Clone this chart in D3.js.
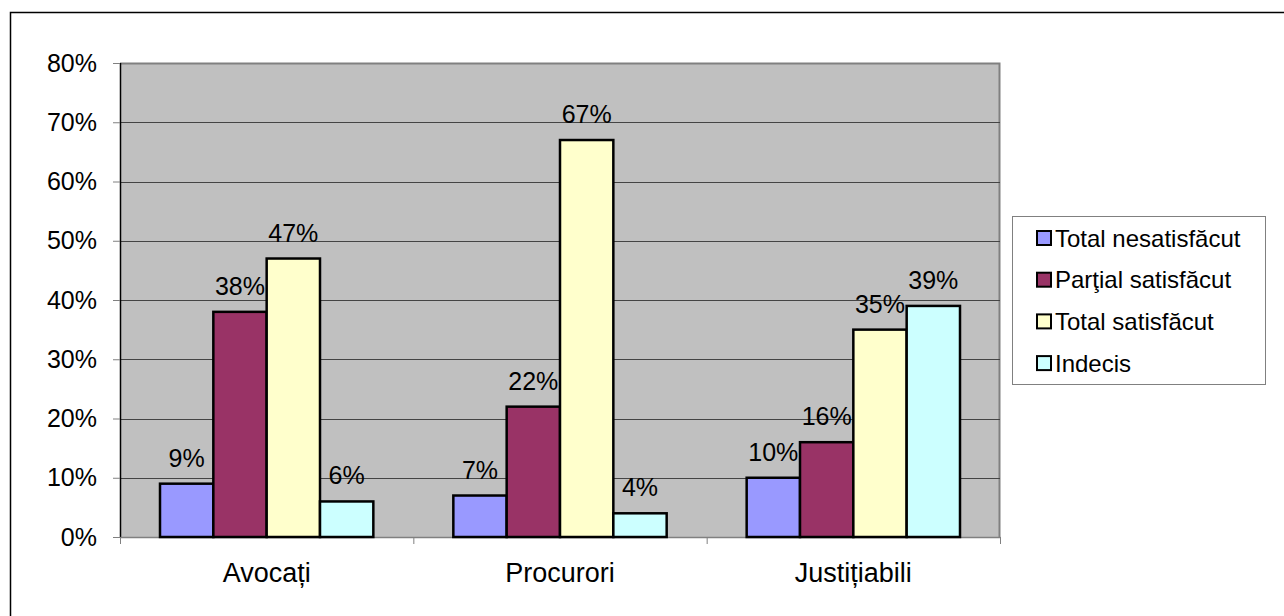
<!DOCTYPE html>
<html>
<head>
<meta charset="utf-8">
<script src="https://cdn.jsdelivr.net/npm/d3@7"></script>
<style>
  body { margin: 0; background: #fff; }
  svg text { font-family: "Liberation Sans", Arial, sans-serif; }
</style>
</head>
<body>
<svg id="chart" width="1284" height="616"></svg>
<script>
// DATA
const categories = ['Avocați', 'Procurori', 'Justițiabili'];
const seriesNames = ['Total nesatisfăcut', 'Parţial satisfăcut', 'Total satisfăcut', 'Indecis'];
const totalNesatisfacut = [9, 7, 10];
const partialSatisfacut = [38, 22, 16];
const totalSatisfacut = [47, 67, 35];
const indecis = [6, 4, 39];
const yTicks = [0, 10, 20, 30, 40, 50, 60, 70, 80];
const colors = ['#9999FF', '#993366', '#FFFFCC', '#CCFFFF'];

const seriesValues = [totalNesatisfacut, partialSatisfacut, totalSatisfacut, indecis];
const rows = [];
categories.forEach((c, ci) => {
    seriesNames.forEach((s, si) => rows.push({ category: c, series: s, value: seriesValues[si][ci], si }));
});

const svg = d3.select('#chart');

// outer chart border (cropped at right/bottom)
svg.append('rect')
    .attr('x', 10.5).attr('y', 12.5)
    .attr('width', 1290).attr('height', 620)
    .attr('fill', '#fff').attr('stroke', '#000').attr('stroke-width', 1.5);

const margin = { top: 63, left: 120 };
const width = 880, height = 474;

const g = svg.append('g').attr('transform', `translate(${margin.left},${margin.top})`);

const x0 = d3.scaleBand().domain(categories).range([0, width]).paddingInner(0).paddingOuter(0);
// gap width 150% -> bars take 4/(4+1.5) of band
const x1 = d3.scaleBand().domain(seriesNames)
    .range([x0.bandwidth() * 0.75 / 5.5, x0.bandwidth() * (1 - 0.75 / 5.5)]);
const y = d3.scaleLinear().domain([0, 80]).range([height, 0]);

// plot area
g.append('rect').attr('width', width).attr('height', height).attr('fill', '#C0C0C0');
g.append('path')
    .attr('d', `M0,0.5H${width - 0.5}V${height}`)
    .attr('fill', 'none').attr('stroke', '#808080').attr('stroke-width', 2);

// gridlines
g.selectAll('.grid').data(yTicks.filter(t => t > 0 && t < 80)).enter()
    .append('line')
    .attr('x1', 0).attr('x2', width)
    .attr('y1', d => Math.round(y(d)) + 0.5).attr('y2', d => Math.round(y(d)) + 0.5)
    .attr('stroke', '#444').attr('stroke-width', 1);

// y axis
const yAxis = g.append('g')
    .call(d3.axisLeft(y).tickValues(yTicks).tickFormat(d => d + '%').tickSize(7).tickPadding(16));
yAxis.select('.domain').attr('stroke', '#000').attr('stroke-width', 1.5).attr('d', `M0.5,0V${height}`);
yAxis.selectAll('.tick line').attr('stroke', '#808080');
yAxis.selectAll('text').attr('font-size', 25).attr('fill', '#000')
    .attr('font-family', '"Liberation Sans", Arial, sans-serif');

// x axis
const xAxis = g.append('g').attr('transform', `translate(0,${height})`)
    .call(d3.axisBottom(x0).tickSize(0).tickPadding(26));
xAxis.select('.domain').attr('stroke', '#808080').attr('stroke-width', 1.5);
xAxis.selectAll('text').attr('font-size', 27).attr('fill', '#000')
    .attr('font-family', '"Liberation Sans", Arial, sans-serif');
xAxis.selectAll('.sep').data(d3.range(categories.length + 1)).enter()
    .append('line')
    .attr('x1', i => i * x0.step() + 0.5).attr('x2', i => i * x0.step() + 0.5)
    .attr('y1', 0).attr('y2', 7)
    .attr('stroke', '#808080');

// bars
g.selectAll('.bar').data(rows).enter()
    .append('rect')
    .attr('x', d => x0(d.category) + x1(d.series))
    .attr('y', d => y(d.value))
    .attr('width', x1.bandwidth())
    .attr('height', d => height - y(d.value))
    .attr('fill', d => colors[d.si])
    .attr('stroke', '#000').attr('stroke-width', 2.5);

// value labels
g.selectAll('.lbl').data(rows).enter()
    .append('text')
    .attr('x', d => x0(d.category) + x1(d.series) + x1.bandwidth() / 2)
    .attr('y', d => y(d.value) - 17)
    .attr('text-anchor', 'middle')
    .attr('font-size', 25)
    .text(d => d.value + '%');

// legend
const legend = svg.append('g').attr('transform', 'translate(1012,216)');
legend.append('rect').attr('x', 0.5).attr('y', 0.5).attr('width', 253).attr('height', 168)
    .attr('fill', '#fff').attr('stroke', '#808080');
const items = legend.selectAll('.item').data(seriesNames).enter()
    .append('g').attr('transform', (d, i) => `translate(0,${22 + i * 41.7})`);
items.append('rect').attr('x', 25).attr('y', -7).attr('width', 14).attr('height', 14)
    .attr('fill', (d, i) => colors[i]).attr('stroke', '#000').attr('stroke-width', 2);
items.append('text').attr('x', 43).attr('y', 8.5).attr('font-size', 24).text(d => d);
</script>
</body>
</html>
